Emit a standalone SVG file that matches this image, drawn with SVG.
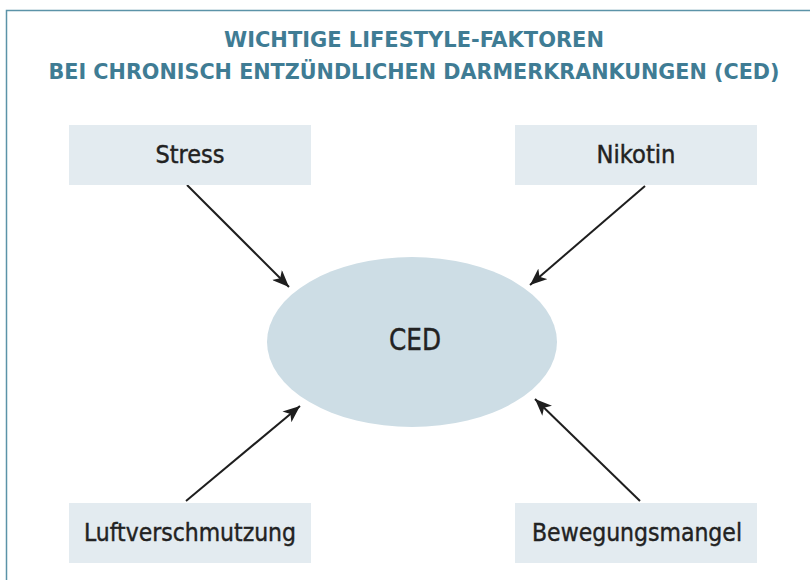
<svg xmlns="http://www.w3.org/2000/svg" width="810" height="580" viewBox="0 0 810 580">
  <defs>
    <marker id="arrow" markerUnits="userSpaceOnUse" markerWidth="18" markerHeight="14" viewBox="0 0 18 14" refX="17" refY="7" orient="auto">
      <path d="M0,0 L17,7 L0,14 L4.5,7 Z" fill="#1e1e1e"/>
    </marker>
    <style>
      .title { font-family: "DejaVu Sans Condensed", "DejaVu Sans", sans-serif; font-weight: bold; font-size: 22px; fill: #3f7c94; text-anchor: middle; }
      .box { fill: #e3ebf0; }
      .label { font-family: "DejaVu Sans Condensed", "DejaVu Sans", sans-serif; font-size: 25px; fill: #222222; stroke: #222222; stroke-width: 0.4; text-anchor: middle; }
      .edge { stroke: #1e1e1e; stroke-width: 2; fill: none; marker-end: url(#arrow); }
    </style>
  </defs>

  <rect width="810" height="580" fill="#ffffff"/>
  <!-- frame, open to the right and bottom -->
  <rect x="6.5" y="10.5" width="900" height="700" fill="none" stroke="#5b93a8" stroke-width="1.5"/>

  <text class="title" x="414" y="46.5" textLength="380" lengthAdjust="spacingAndGlyphs">WICHTIGE LIFESTYLE-FAKTOREN</text>
  <text class="title" x="414" y="78.5" textLength="731" lengthAdjust="spacingAndGlyphs">BEI CHRONISCH ENTZÜNDLICHEN DARMERKRANKUNGEN (CED)</text>

  <g id="connectors">
    <line class="edge" x1="187" y1="185" x2="289" y2="287"/>
    <line class="edge" x1="645" y1="186" x2="530" y2="285"/>
    <line class="edge" x1="186" y1="501" x2="300" y2="406"/>
    <line class="edge" x1="640" y1="501" x2="535" y2="399"/>
  </g>

  <g id="ced">
    <ellipse cx="412" cy="342" rx="145" ry="85" fill="#cddde5"/>
    <text class="label" x="415" y="350" style="font-size:30px" textLength="52" lengthAdjust="spacingAndGlyphs">CED</text>
  </g>

  <g id="stress">
    <rect class="box" x="69" y="125" width="242" height="60"/>
    <text class="label" x="190" y="163" textLength="69" lengthAdjust="spacingAndGlyphs">Stress</text>
  </g>

  <g id="nikotin">
    <rect class="box" x="515" y="125" width="242" height="60"/>
    <text class="label" x="636" y="163" textLength="79" lengthAdjust="spacingAndGlyphs">Nikotin</text>
  </g>

  <g id="luftverschmutzung">
    <rect class="box" x="69" y="503" width="242" height="60"/>
    <text class="label" x="190" y="541" textLength="212" lengthAdjust="spacingAndGlyphs">Luftverschmutzung</text>
  </g>

  <g id="bewegungsmangel">
    <rect class="box" x="515" y="503" width="242" height="60"/>
    <text class="label" x="637" y="541" textLength="210" lengthAdjust="spacingAndGlyphs">Bewegungsmangel</text>
  </g>
</svg>
